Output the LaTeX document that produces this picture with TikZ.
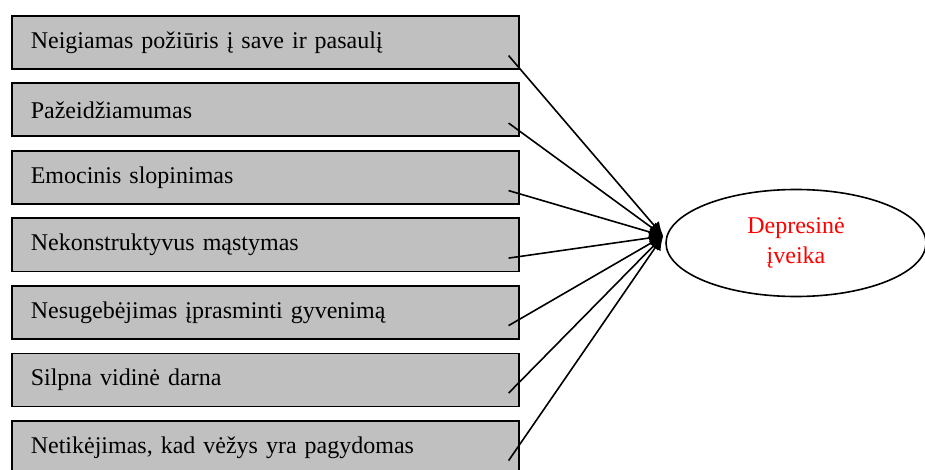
\documentclass[tikz,border=0pt]{standalone}
\usepackage{fontspec}
\setmainfont{Liberation Serif}
\usetikzlibrary{positioning,shapes.geometric,arrows.meta}
\definecolor{dezegray}{RGB}{192,192,192}

\begin{document}
\begin{tikzpicture}[x=0.5pt,y=-0.5pt,
  font=\fontsize{12}{15}\selectfont,
  veiksnys/.style={draw,line width=0.8pt,fill=dezegray,rectangle,
    minimum height=26.5pt,text width=234.5pt,inner xsep=9.5pt,inner ysep=2pt,align=left},
  rodykle/.style={line width=0.8pt,-{Latex[length=7pt,width=6.5pt]}},
  node distance=6.45pt]
\useasboundingbox (0,0) rectangle (925,470);

\node[veiksnys,anchor=north west] (F1) at (11,15) {Neigiamas požiūris į save ir pasaulį};
\node[veiksnys,below=of F1] (F2) {Pažeidžiamumas};
\node[veiksnys,below=of F2] (F3) {Emocinis slopinimas};
\node[veiksnys,below=of F3] (F4) {Nekonstruktyvus mąstymas};
\node[veiksnys,below=of F4] (F5) {Nesugebėjimas įprasminti gyvenimą};
\node[veiksnys,below=of F5] (F6) {Silpna vidinė darna};
\node[veiksnys,below=of F6] (F7) {Netikėjimas, kad vėžys yra pagydomas};

\node[draw,ellipse,line width=0.8pt,minimum width=130pt,minimum height=53.5pt,
  text=red,align=center] (DEP) at (796,243) {Depresinė\\įveika};

\coordinate (HUB) at ([shift={(-1pt,3.5pt)}]DEP.west);

\draw[rodykle] ([shift={(-5.5pt,7pt)}]F1.south east) -- (HUB);
\draw[rodykle] ([shift={(-5.5pt,7pt)}]F2.south east) -- (HUB);
\draw[rodykle] ([shift={(-5.5pt,7pt)}]F3.south east) -- (HUB);
\draw[rodykle] ([shift={(-5.5pt,7pt)}]F4.south east) -- (HUB);
\draw[rodykle] ([shift={(-5.5pt,7pt)}]F5.south east) -- (HUB);
\draw[rodykle] ([shift={(-5.5pt,7pt)}]F6.south east) -- (HUB);
\draw[rodykle] ([shift={(-5.5pt,7pt)}]F7.south east) -- (HUB);

\end{tikzpicture}
\end{document}
